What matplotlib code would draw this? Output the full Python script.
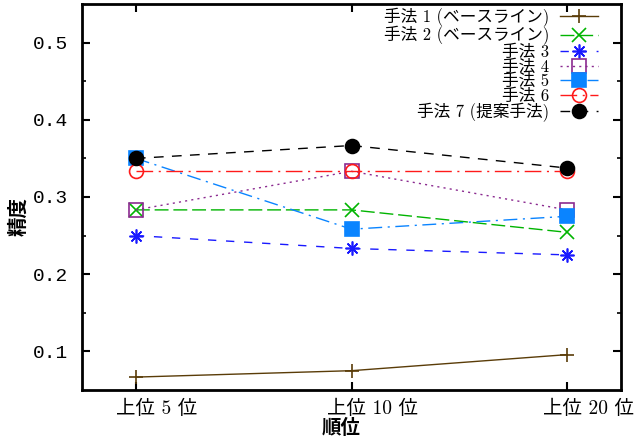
import numpy as np
import matplotlib
matplotlib.use("Agg")
import matplotlib.pyplot as plt
import matplotlib.transforms as mtransforms

# ---- data ----
ranks = ["上位 5 位", "上位 10 位", "上位 20 位"]
method_names = ["手法 1 (ベースライン)", "手法 2 (ベースライン)", "手法 3", "手法 4",
                "手法 5", "手法 6", "手法 7 (提案手法)"]
m1 = [0.0667, 0.075, 0.0958]
m2 = [0.2833, 0.2833, 0.2542]
m3 = [0.25, 0.2333, 0.225]
m4 = [0.2833, 0.3333, 0.2833]
m5 = [0.35, 0.2583, 0.275]
m6 = [0.3333, 0.3333, 0.3333]
m7 = [0.35, 0.3667, 0.3375]

series = [m1, m2, m3, m4, m5, m6, m7]

# styles: (color, marker, fill, dashes)
styles = [
    ("#5a3c08", "+", True, None),
    ("#00b400", "x", True, (10, 3.5)),
    ("#1a1aff", (8, 2, 0), True, (6, 7)),
    ("#8b2a90", "s", False, (1.5, 3)),
    ("#0a84ff", "s", True, (10, 4, 1.5, 4)),
    ("#ff1a1a", "o", False, (12, 4, 1.5, 4)),
    ("#000000", "o", True, (7, 6)),
]

serif_cjk = ["cmr10", "Noto Sans CJK JP"]

fig = plt.figure(figsize=(6.37, 4.37), dpi=100)
ax = fig.add_axes([0.1287, 0.1076, 0.8463, 0.8832])

x = np.arange(len(ranks))
for name, vals, (col, mk, filled, dash) in zip(method_names, series, styles):
    kw = dict(color=col, lw=1.0, marker=mk, markersize=10, label=name,
              markeredgewidth=1.2)
    if not filled:
        kw["markerfacecolor"] = "none"
    if dash is None:
        kw["linestyle"] = "-"
    else:
        kw["dashes"] = dash
    ax.plot(x, vals, **kw)

ax.set_xlim(-0.25, 2.25)
ax.set_ylim(0.05, 0.55)
ax.set_xticks(x)
ax.set_xticklabels(ranks, family=serif_cjk, fontsize=14)
ax.set_yticks([0.1, 0.2, 0.3, 0.4, 0.5])
ax.set_yticks([0.15, 0.25, 0.35, 0.45], minor=True)
for lab in ax.get_yticklabels():
    lab.set_family("Liberation Mono")
    lab.set_fontsize(14)

ax.tick_params(axis="both", which="major", direction="in", length=6, width=1.5,
               top=True, right=True)
ax.tick_params(axis="y", which="major", pad=10)
ax.tick_params(axis="x", which="major", pad=7)
ax.tick_params(axis="y", which="minor", direction="in", length=3, width=1.2,
               right=True)
for sp in ax.spines.values():
    sp.set_linewidth(2)

# x tick labels in the original sit a bit right of their ticks
shift = mtransforms.ScaledTranslation(0.21, 0, fig.dpi_scale_trans)
for lab in ax.get_xticklabels():
    lab.set_transform(lab.get_transform() + shift)

ax.set_xlabel("順位", family="Noto Sans CJK JP", fontsize=14, fontweight="bold")
ax.set_ylabel("精度", family="Noto Sans CJK JP", fontsize=14, fontweight="bold")
ax.xaxis.set_label_coords(0.48, -0.075)
ax.yaxis.set_label_coords(-0.10, 0.45)

leg = ax.legend(loc="upper right", bbox_to_anchor=(0.957, 0.99), frameon=False,
                markerfirst=False, prop={"family": serif_cjk, "size": 12},
                handlelength=2.3, handletextpad=0.6, labelspacing=-0.05,
                borderaxespad=0.0, borderpad=0.0)

fig.savefig("out.png", dpi=100)
